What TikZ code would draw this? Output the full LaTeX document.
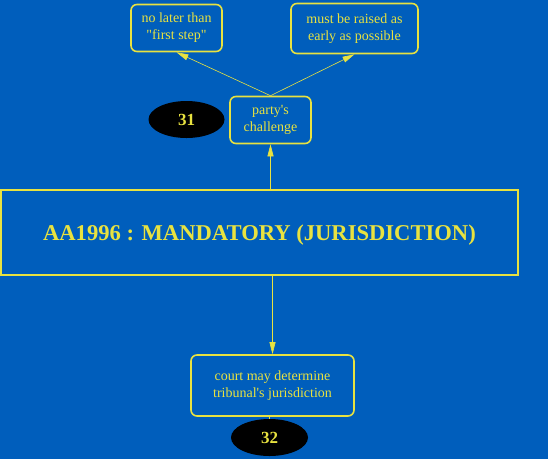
\documentclass[tikz,border=0pt]{standalone}
\usepackage{fontspec}
\setmainfont{Liberation Serif}
\usetikzlibrary{arrows.meta,shapes.geometric}
\definecolor{bgblue}{RGB}{0,94,188}
\definecolor{ylw}{RGB}{232,226,64}
\begin{document}
\begin{tikzpicture}[x=1pt,y=-1pt,
  box/.style={draw=ylw, line width=1.6pt, rounded corners=6pt, text=ylw,
    align=center, font=\fontsize{14}{17}\selectfont, inner sep=0pt},
  num/.style={ellipse, fill=black, text=ylw, inner sep=0pt,
    font=\fontsize{17}{17}\selectfont\bfseries},
  link/.style={draw=ylw, line width=0.6pt, -{Triangle[length=12pt,width=6pt]}}]
\fill[bgblue] (0,0) rectangle (548,459);
\useasboundingbox (0,0) rectangle (548,459);
% upper part
\node[box, minimum width=91pt, minimum height=47pt] (first) at (176.5,28) {no later than\\\textquotedbl first step\textquotedbl};
\node[box, minimum width=127pt, minimum height=50pt] (raised) at (354.5,28.5) {must be raised as\\early as possible};
\node[box, minimum width=81pt, minimum height=47pt] (party) at (270.5,120) {party\textquotesingle s\\challenge};
\node[num, minimum width=76pt, minimum height=37pt] (n31) at (186.5,119.5) {31};
% main box
\node[draw=ylw, line width=1.6pt, text=ylw, minimum width=517pt, minimum height=85pt,
  text height=16pt, text depth=0pt,
  font=\fontsize{22.6}{22.6}\selectfont\bfseries] (main) at (259.5,232.5) {AA1996 : MANDATORY (JURISDICTION)};
% lower part
\node[box, minimum width=163pt, minimum height=61pt] (court) at (272.5,385.5) {court may determine\\tribunal\textquotesingle s jurisdiction};
\node[num, minimum width=77pt, minimum height=37pt] (n32) at (269.5,437.5) {32};
\draw[link] (party.north) -- (first.south);
\draw[link] (party.north) -- (raised.south);
\draw[link] (main.north -| party.south) -- (party.south);
\draw[link] (main.south -| court.north) -- (court.north);
\draw[ylw, line width=0.6pt] (court.south -| n32.north) -- (n32.north);
\end{tikzpicture}
\end{document}
